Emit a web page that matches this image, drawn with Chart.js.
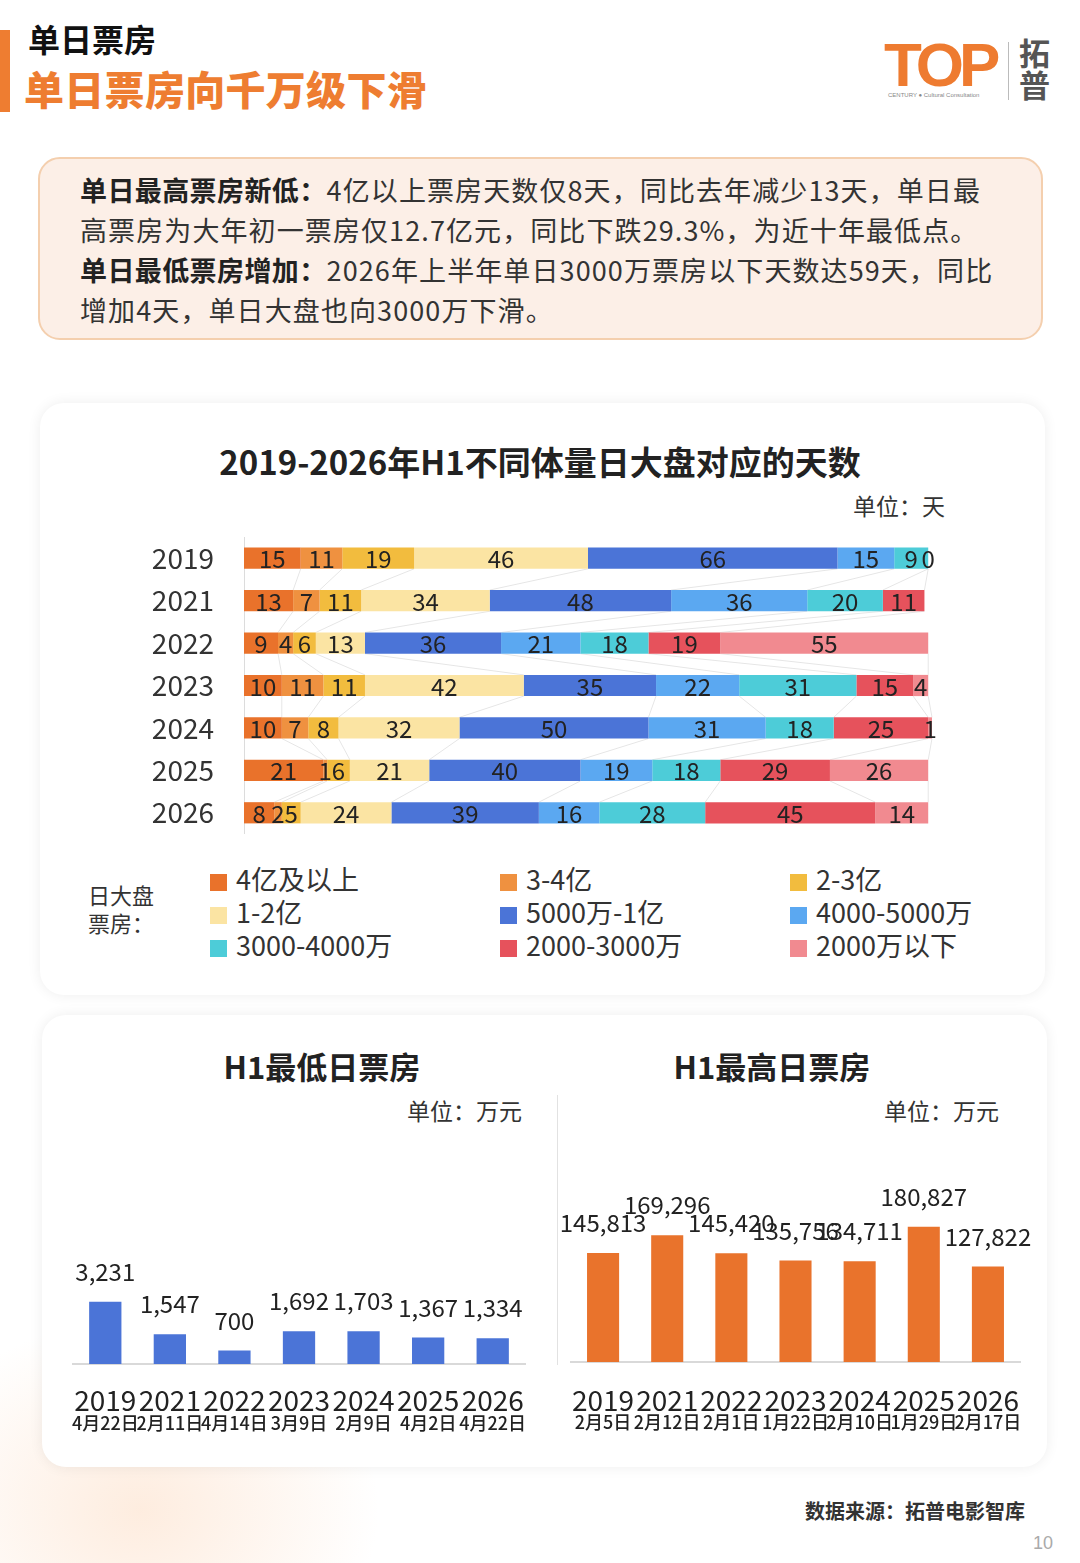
<!DOCTYPE html>
<html>
<head>
<meta charset="utf-8">
<script src="https://cdn.jsdelivr.net/npm/chart.js@4.4.1/dist/chart.umd.min.js"></script>
<style>
  html, body { margin: 0; padding: 0; }
  body {
    width: 1080px; height: 1563px; position: relative; overflow: hidden;
    background: #ffffff;
    font-family: "Noto Sans CJK SC", "Noto Sans", sans-serif;
    color: #222;
  }
  .abs { position: absolute; }
  .glow {
    left: -120px; top: 1300px; width: 520px; height: 420px;
    background: radial-gradient(ellipse at center, rgba(252, 214, 184, 0.45) 0%, rgba(255, 255, 255, 0) 65%);
  }
  .accent { left: 0; top: 30px; width: 10px; height: 82px; background: #ee7d31; }
  .h1 { left: 28px; top: 18px; font-size: 32px; font-weight: 700; color: #111; line-height: 40px; }
  .h2 { left: 24px; top: 62px; font-size: 40px; font-weight: 900; color: #ee7d31; line-height: 52px; letter-spacing: 0.3px; }
  .logo { left: 884px; top: 30px; font-family: "Liberation Sans", Arial, sans-serif; font-weight: 700;
          font-size: 62px; color: #ee7b30; letter-spacing: -5px; line-height: 70px; }
  .logo-sub { left: 888px; top: 92px; font-size: 6px; color: #888; font-family: "Liberation Sans", sans-serif; white-space: nowrap; }
  .logo-bar { left: 1008px; top: 42px; width: 1px; height: 58px; background: #bbb; }
  .logo-cn { left: 1019px; top: 36px; font-size: 31px; font-weight: 700; color: #555; line-height: 32px; width: 34px; }
  .note {
    left: 38px; top: 157px; width: 1001px; height: 179px;
    background: #fcefe7; border: 2px solid #f4cfae; border-radius: 22px;
  }
  .note-text {
    left: 80px; top: 170px; font-size: 27px; line-height: 40px; color: #333; white-space: nowrap; letter-spacing: 1.1px;
  }
  .note-text b { color: #222; font-weight: 700; letter-spacing: 0.4px; }
  .card { background: #fff; border-radius: 24px; box-shadow: 0 0 14px rgba(0, 0, 0, 0.07); }
  .title { font-weight: 700; color: #222; text-align: center; white-space: nowrap; }
  .unit { font-size: 23px; color: #333; white-space: nowrap; }
  .legend-head { left: 88px; top: 880px; font-size: 22px; line-height: 28px; color: #333; }
  .lg { font-size: 27px; color: #333; white-space: nowrap; line-height: 33px; }
  .lg i { display: inline-block; width: 17px; height: 17px; margin-right: 9px; vertical-align: -1px; }
  .divider { left: 557px; top: 1095px; width: 1px; height: 270px; background: #e2e2e2; }
  .source { left: 805px; top: 1496px; font-size: 20px; font-weight: 700; color: #333; white-space: nowrap; }
  .page { left: 1033px; top: 1533px; font-size: 18px; color: #aaa; font-family: "Liberation Sans", sans-serif; }
</style>
</head>
<body>

<div class="abs glow"></div>
<div class="abs accent"></div>
<div class="abs h1">单日票房</div>
<div class="abs h2">单日票房向千万级下滑</div>

<div class="abs logo">TOP</div>
<div class="abs logo-sub">CENTURY ● Cultural Consultation</div>
<div class="abs logo-bar"></div>
<div class="abs logo-cn">拓普</div>

<div class="abs note"></div>
<div class="abs note-text">
  <b>单日最高票房新低：</b>4亿以上票房天数仅8天，同比去年减少13天，单日最<br>
  高票房为大年初一票房仅12.7亿元，同比下跌29.3%，为近十年最低点。<br>
  <b>单日最低票房增加：</b>2026年上半年单日3000万票房以下天数达59天，同比<br>
  增加4天，单日大盘也向3000万下滑。
</div>

<!-- top card: stacked days -->
<div class="abs card" style="left:40px; top:403px; width:1005px; height:592px;"></div>
<div class="abs title" style="left:40px; width:1000px; top:437px; font-size:33px;">2019-2026年H1不同体量日大盘对应的天数</div>
<div class="abs unit" style="left:853px; top:488px;">单位：天</div>
<canvas id="daysChart" class="abs" style="left:140px; top:537px;" width="800" height="297"></canvas>

<div class="abs legend-head">日大盘<br>票房：</div>
<div id="legend"></div>

<!-- bottom card: min / max -->
<div class="abs card" style="left:42px; top:1015px; width:1005px; height:452px;"></div>
<div class="abs title" style="left:122px; width:400px; top:1043px; font-size:31px;">H1最低日票房</div>
<div class="abs unit" style="left:407px; top:1093px;">单位：万元</div>
<div class="abs title" style="left:572px; width:400px; top:1043px; font-size:31px;">H1最高日票房</div>
<div class="abs unit" style="left:884px; top:1093px;">单位：万元</div>
<div class="abs divider"></div>
<canvas id="minChart" class="abs" style="left:60px; top:1160px;" width="490" height="280"></canvas>
<canvas id="maxChart" class="abs" style="left:560px; top:1165px;" width="480" height="275"></canvas>

<div class="abs source">数据来源：拓普电影智库</div>
<div class="abs page">10</div>

<script>
// ---- data ----
const years = ["2019", "2021", "2022", "2023", "2024", "2025", "2026"];

const bandNames = ["4亿及以上", "3-4亿", "2-3亿", "1-2亿", "5000万-1亿", "4000-5000万", "3000-4000万", "2000-3000万", "2000万以下"];
const bandColors = ["#e9722b", "#ef9140", "#f2bc3e", "#fbe4a3", "#4b74d7", "#5ba8f1", "#4dccd8", "#e6525c", "#f18a90"];

// days per band, one value per year
const days4yiUp   = [15, 13, 9, 10, 10, 21, 8];
const days3to4yi  = [11, 7, 4, 11, 7, 1, 2];
const days2to3yi  = [19, 11, 6, 11, 8, 6, 5];
const days1to2yi  = [46, 34, 13, 42, 32, 21, 24];
const days5kto1yi = [66, 48, 36, 35, 50, 40, 39];
const days4to5k   = [15, 36, 21, 22, 31, 19, 16];
const days3to4k   = [9, 20, 18, 31, 18, 18, 28];
const days2to3k   = [0, 11, 19, 15, 25, 29, 45];
const daysUnder2k = [null, null, 55, 4, 1, 26, 14];

const minBoxOffice = [3231, 1547, 700, 1692, 1703, 1367, 1334];
const minDates = ["4月22日", "2月11日", "4月14日", "3月9日", "2月9日", "4月2日", "4月22日"];
const maxBoxOffice = [145813, 169296, 145420, 135756, 134711, 180827, 127822];
const maxDates = ["2月5日", "2月12日", "2月1日", "1月22日", "2月10日", "1月29日", "2月17日"];

const FONT = '"Noto Sans CJK SC", "Noto Sans", sans-serif';

// ---- legend ----
const legendBox = document.getElementById("legend");
const legendCols = [210, 500, 790];
const legendRows = [862, 895, 928];
bandNames.forEach((name, i) => {
  const el = document.createElement("div");
  el.className = "abs lg";
  el.style.left = legendCols[i % 3] + "px";
  el.style.top = legendRows[Math.floor(i / 3)] + "px";
  el.innerHTML = `<i style="background:${bandColors[i]}"></i>${name}`;
  legendBox.appendChild(el);
});

// ---- stacked days chart ----
const bandData = [days4yiUp, days3to4yi, days2to3yi, days1to2yi, days5kto1yi, days4to5k, days3to4k, days2to3k, daysUnder2k];

// faint connector lines between the same band end on neighbouring rows
const seriesLines = {
  id: "seriesLines",
  beforeDatasetsDraw(chart) {
    const ctx = chart.ctx;
    ctx.save();
    ctx.strokeStyle = "rgba(0,0,0,0.10)";
    ctx.lineWidth = 1;
    chart.data.datasets.forEach((ds, i) => {
      const meta = chart.getDatasetMeta(i);
      for (let k = 0; k < meta.data.length - 1; k++) {
        if (ds.data[k] == null || ds.data[k + 1] == null) continue;
        const a = meta.data[k].getProps(["x", "y", "height"], true);
        const b = meta.data[k + 1].getProps(["x", "y", "height"], true);
        ctx.beginPath();
        ctx.moveTo(a.x, a.y + a.height / 2);
        ctx.lineTo(b.x, b.y - b.height / 2);
        ctx.stroke();
      }
    });
    ctx.restore();
  }
};

const segmentLabels = {
  id: "segmentLabels",
  afterDatasetsDraw(chart) {
    const ctx = chart.ctx;
    ctx.save();
    ctx.font = "24px " + FONT;
    ctx.fillStyle = "#222";
    ctx.textAlign = "center";
    ctx.textBaseline = "middle";
    chart.data.datasets.forEach((ds, i) => {
      const meta = chart.getDatasetMeta(i);
      meta.data.forEach((bar, k) => {
        const v = ds.data[k];
        if (v == null) return;
        const p = bar.getProps(["x", "y", "base"], true);
        ctx.fillText(String(v), (p.x + p.base) / 2, p.y + 1);
      });
    });
    ctx.restore();
  }
};

new Chart(document.getElementById("daysChart"), {
  type: "bar",
  data: {
    labels: years,
    datasets: bandData.map((d, i) => ({
      label: bandNames[i],
      data: d,
      backgroundColor: bandColors[i],
      borderWidth: 0,
      barPercentage: 0.5,
      categoryPercentage: 1
    }))
  },
  options: {
    indexAxis: "y",
    responsive: false,
    animation: false,
    layout: { padding: { right: 8 } },
    plugins: { legend: { display: false }, tooltip: { enabled: false } },
    scales: {
      x: { stacked: true, min: 0, max: 182, display: false },
      y: {
        stacked: true,
        grid: { display: false, drawTicks: false },
        border: { display: true, color: "#dcdcdc" },
        ticks: { color: "#333", font: { family: FONT, size: 28 }, padding: 30 },
        afterFit(scale) {
          scale.width = 104;
          scale.paddingTop = 0;
          scale.paddingBottom = 0;
        }
      }
    }
  },
  plugins: [seriesLines, segmentLabels]
});

// ---- min / max column charts ----
function columnLabels(dates, yearGap, dateGap) {
  return {
    id: "columnLabels",
    afterDraw(chart) {
      const ctx = chart.ctx;
      const xs = chart.scales.x;
      const bottom = chart.chartArea.bottom;
      const ds = chart.data.datasets[0];
      const meta = chart.getDatasetMeta(0);
      ctx.save();
      ctx.textAlign = "center";
      ctx.textBaseline = "middle";
      ctx.fillStyle = "#222";
      chart.data.labels.forEach((lab, i) => {
        const x = xs.getPixelForValue(i);
        ctx.font = "28px " + FONT;
        ctx.fillText(lab, x, bottom + yearGap);
        ctx.font = "500 18px " + FONT;
        ctx.fillText(dates[i], x, bottom + dateGap);
        ctx.font = "24px " + FONT;
        ctx.fillText(ds.data[i].toLocaleString("en-US"), x, meta.data[i].y - 30);
      });
      ctx.restore();
    }
  };
}

function columnChart(id, values, dates, color, max, pad, yearGap, dateGap) {
  return new Chart(document.getElementById(id), {
    type: "bar",
    data: {
      labels: years,
      datasets: [{
        data: values,
        backgroundColor: color,
        borderWidth: 0,
        barPercentage: 0.5,
        categoryPercentage: 1
      }]
    },
    options: {
      responsive: false,
      animation: false,
      layout: { padding: pad },
      plugins: { legend: { display: false }, tooltip: { enabled: false } },
      scales: {
        x: {
          grid: { display: false, drawTicks: false },
          border: { display: true, color: "#d9d9d9", width: 2 },
          ticks: { display: false }
        },
        y: { display: false, min: 0, max: max }
      }
    },
    plugins: [columnLabels(dates, yearGap, dateGap)]
  });
}

columnChart("minChart", minBoxOffice, minDates, "#4b74d7", 10000,
  { left: 13, right: 25, top: 11, bottom: 76 }, 36, 59);
columnChart("maxChart", maxBoxOffice, maxDates, "#e9732c", 250000,
  { left: 11, right: 20, top: 10, bottom: 78 }, 38, 60);
</script>
</body>
</html>
